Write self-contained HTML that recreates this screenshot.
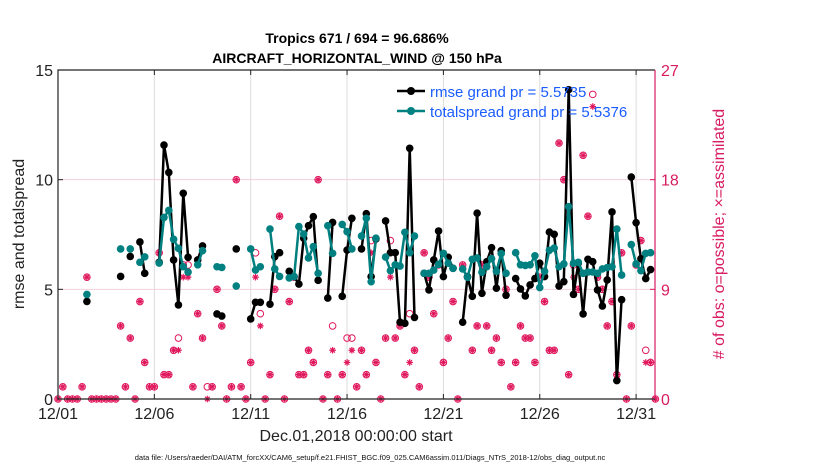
<!DOCTYPE html>
<html><head><meta charset="utf-8"><style>
body{margin:0;background:#fff;width:830px;height:470px;overflow:hidden;font-family:"Liberation Sans",sans-serif}
</style></head><body>
<svg id="chart" width="830" height="470" xmlns="http://www.w3.org/2000/svg" font-family="Liberation Sans, sans-serif">
<text x="357" y="43" text-anchor="middle" font-size="14" font-weight="bold">Tropics 671 / 694 = 96.686%</text>
<text x="357" y="63" text-anchor="middle" font-size="14" font-weight="bold">AIRCRAFT_HORIZONTAL_WIND @ 150 hPa</text>
<g id="grid"></g><g id="obs"></g><g id="series"></g><g id="axes"></g>
<text x="356" y="441" text-anchor="middle" font-size="16" fill="#222">Dec.01,2018 00:00:00 start</text>
<text transform="translate(24,234) rotate(-90)" text-anchor="middle" font-size="16" fill="#222">rmse and totalspread</text>
<text transform="translate(724,234) rotate(-90)" text-anchor="middle" font-size="16" fill="#d81b60"># of obs: o=possible; ×=assimilated</text>
<text x="370" y="460" text-anchor="middle" font-size="7.5" fill="#111">data file: /Users/raeder/DAI/ATM_forcXX/CAM6_setup/f.e21.FHIST_BGC.f09_025.CAM6assim.011/Diags_NTrS_2018-12/obs_diag_output.nc</text>
<g>
<line x1="397" y1="91" x2="425" y2="91" stroke="#000" stroke-width="2.5"/><circle cx="411" cy="91" r="4" fill="#000"/>
<text x="430" y="97" font-size="15" fill="#1a5cff">rmse grand pr = 5.5735</text>
<line x1="397" y1="111" x2="425" y2="111" stroke="#008080" stroke-width="2.5"/><circle cx="411" cy="111" r="4" fill="#008080"/>
<text x="430" y="117" font-size="15" fill="#1a5cff">totalspread grand pr = 5.5376</text>
</g>
</svg>
<script>
const N=null;
const xTickLabels=["12/01","12/06","12/11","12/16","12/21","12/26","12/31"];
const xTickDays=[0,5,10,15,20,25,30];
const yTicksLeft=[0,5,10,15];
const yTicksRight=[0,9,18,27];
const rmse=[N,N,N,N,N,N,4.45,N,N,N,N,N,N,5.59,N,6.5,N,7.16,5.73,N,N,6.23,11.58,10.33,6.34,4.29,9.38,6.46,N,6.34,6.98,N,N,3.88,3.78,N,N,6.84,N,N,3.65,4.41,4.41,N,4.32,6.49,6.67,N,5.82,5.58,5.24,7.33,7.9,8.31,5.41,N,4.6,8.05,N,4.68,6.79,8.24,N,6.84,8.45,5.58,7.3,N,8.12,6.67,6.67,3.5,3.45,11.43,3.72,N,5.73,4.97,6.34,7.66,5.58,6.46,5.96,N,3.5,5.58,4.68,8.47,4.82,6.26,6.9,5.05,6.76,4.73,N,5.49,5.02,4.7,5.2,5.49,6.19,5.58,7.61,7.51,5.15,5.35,14.1,4.77,6.19,3.88,6.37,6.26,4.97,4.24,5.43,8.53,0.84,4.53,N,10.12,8.04,6.4,5.49,5.9];
const spread=[N,N,N,N,N,N,4.77,N,N,N,N,N,N,6.84,N,6.84,N,6.23,6.48,N,N,6.2,8.28,8.6,7.28,6.87,6.03,5.79,N,6.12,6.76,N,N,6.03,6.0,N,N,5.15,N,N,6.84,5.88,6.03,N,7.75,5.93,5.59,N,5.52,5.58,7.86,7.52,6.43,6.95,5.73,N,7.9,6.64,N,7.96,7.63,6.84,N,7.43,8.24,5.35,7.33,N,6.47,5.85,6.12,6.06,7.6,6.67,7.43,N,5.73,5.73,5.88,6.14,6.64,6.19,5.96,N,5.93,5.55,6.37,6.43,5.78,6.03,6.4,5.82,6.63,5.73,N,6.67,6.12,6.09,6.12,6.53,5.08,5.82,6.78,6.88,6.03,6.16,8.77,6.19,6.23,5.73,5.79,5.79,5.73,5.93,5.99,6.03,7.75,5.65,N,7.04,6.16,5.85,6.64,6.67];
const possible=[0,1,0,0,0,1,10,0,0,0,0,0,0,6,1,5,0,8,3,1,1,12,2,2,4,5,11,11,1,7,5,1,1,9,6,0,1,18,1,0,3,12,7,0,2,9,15,0,8,10,2,2,4,3,18,0,2,6,0,2,5,5,1,4,2,13,3,0,5,13,5,6,2,7,4,1,12,10,7,11,3,5,8,0,11,10,4,6,11,6,4,5,3,9,1,3,6,5,5,3,10,8,4,4,21,18,2,11,9,20,15,25,10,9,6,8,2,12,0,6,11,13,4,3,0];
const assimilated=[0,1,0,0,0,1,10,0,0,0,0,0,0,6,1,5,0,8,3,1,1,12,2,2,4,4,10,10,1,7,5,0,1,9,6,0,1,18,1,0,3,10,6,0,2,9,15,0,8,10,2,2,4,3,18,0,2,4,0,2,3,4,1,4,2,12,3,0,5,10,5,6,2,3,4,1,12,10,7,11,3,5,8,0,11,10,4,6,11,6,4,5,3,9,1,3,6,5,5,3,10,8,4,4,21,18,2,10,9,20,15,24,10,9,6,8,2,12,0,6,11,13,3,3,0];
const NS="http://www.w3.org/2000/svg";
const X0=58,X1=655,Y0=399,Y1=70,dayPx=19.27;
const xs=i=>X0+i*0.25*dayPx, xd=d=>X0+d*dayPx;
const yL=v=>Y0-v*(Y0-Y1)/15, yR=c=>Y0-c*(Y0-Y1)/27;
function mk(p,t,a){const e=document.createElementNS(NS,t);for(const k in a)e.setAttribute(k,a[k]);p.appendChild(e);return e;}
const grid=document.getElementById('grid'),axes=document.getElementById('axes'),obs=document.getElementById('obs'),ser=document.getElementById('series');
mk(grid,'rect',{x:X0,y:Y1,width:X1-X0,height:Y0-Y1,fill:'#fff'});
xTickDays.forEach((d,k)=>{const x=xd(d);
 const g=mk(grid,'line',{x1:x,y1:Y1,x2:x,y2:Y0,stroke:'#dcdcdc','stroke-width':1});
 
 
 mk(axes,'line',{x1:x,y1:Y0,x2:x,y2:Y0-5,stroke:'#222'});mk(axes,'line',{x1:x,y1:Y1,x2:x,y2:Y1+5,stroke:'#222'});
 const t=mk(axes,'text',{x:x,y:Y0+20,'text-anchor':'middle','font-size':16,fill:'#222'});t.textContent=xTickLabels[k];
 
 });
yTicksLeft.forEach(v=>{const y=yL(v);
 if(v>0&&v<15){const g=mk(grid,'line',{x1:X0,y1:y,x2:X1,y2:y,stroke:'#f2d0dc','stroke-width':1});
 
 }
 mk(axes,'line',{x1:X0,y1:y,x2:X0+5,y2:y,stroke:'#222'});
 const t=mk(axes,'text',{x:X0-5,y:y+6,'text-anchor':'end','font-size':16,fill:'#222'});t.textContent=v;
 
 });
yTicksRight.forEach(c=>{const y=yR(c);
 mk(axes,'line',{x1:X1,y1:y,x2:X1-5,y2:y,stroke:'#d81b60'});
 const t=mk(axes,'text',{x:X1+6,y:y+6,'font-size':16,fill:'#d81b60'});t.textContent=c;
 
 });
mk(axes,'path',{d:`M${X1} ${Y1}H${X0}V${Y0}H${X1}`,fill:'none',stroke:'#222','stroke-width':1.2});
mk(axes,'line',{x1:X1,y1:Y1,x2:X1,y2:Y0,stroke:'#d81b60','stroke-width':1.2});
const pk='#e0195e';
possible.forEach((c,i)=>{const x=xs(i),y=yR(c);
 const e=mk(obs,'circle',{cx:x,cy:y,r:3.3,fill:'none',stroke:pk,'stroke-width':1});
 
 });
assimilated.forEach((c,i)=>{const x=xs(i),y=yR(c),r=3.3;
 const e=mk(obs,'path',{d:`M${x-r} ${y}H${x+r}M${x} ${y-r}V${y+r}M${x-2.3} ${y-2.3}L${x+2.3} ${y+2.3}M${x-2.3} ${y+2.3}L${x+2.3} ${y-2.3}`,stroke:pk,'stroke-width':1.2});
 
 });
function drawSeries(arr,col,name){let d='',pen=false;
 arr.forEach((v,i)=>{if(v===null){pen=false;return;}d+=(pen?'L':'M')+xs(i).toFixed(1)+' '+yL(v).toFixed(1);pen=true;});
 const p=mk(ser,'path',{d:d,fill:'none',stroke:col,'stroke-width':2.5,'stroke-linejoin':'round'});
 
 
 arr.forEach((v,i)=>{if(v===null)return;const c=mk(ser,'circle',{cx:xs(i),cy:yL(v),r:3.8,fill:col});
 
 });}
drawSeries(rmse,'#000','rmse');
drawSeries(spread,'#008080','totalspread');
</script>
</body></html>
